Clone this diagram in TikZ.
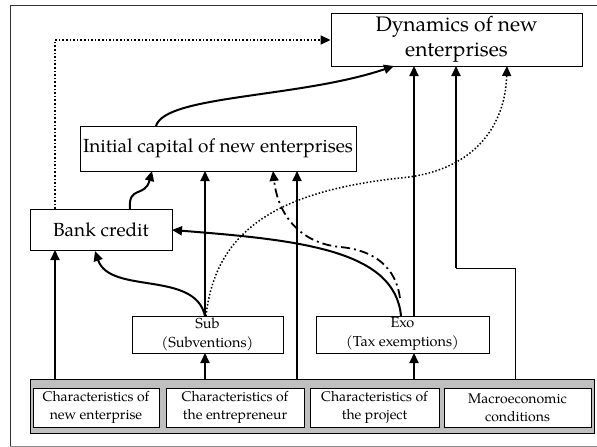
\documentclass[tikz,border=0pt]{standalone}
\usepackage{fontspec}
\setmainfont{TeX Gyre Pagella}
\usetikzlibrary{arrows.meta}
\tikzset{
  box/.style={draw, line width=0.9pt, inner sep=0pt, align=center},
  inbox/.style={draw, line width=1pt, fill=white, inner sep=0pt, align=center, minimum height=39pt, font=\fontsize{14}{18}\selectfont},
  arr/.style={line width=2pt, -{Triangle[length=10pt,width=9pt]}},
  dotarr/.style={line width=1.6pt, dotted, -{Triangle[length=10pt,width=9pt]}},
}
\begin{document}
\begin{tikzpicture}[x=1pt,y=-1pt]
\useasboundingbox (0,0) rectangle (597,447);
% outer frame
\draw[line width=1pt, black!80] (597,5) -- (10,5) -- (10,446);
\draw[line width=1pt, black!45] (10,446) -- (597,446);
% boxes
\node[box, minimum width=251pt, minimum height=53pt, font=\fontsize{21}{25}\selectfont] (dyn) at (456.5,39.5) {Dynamics of new\\enterprises};
\node[box, minimum width=276pt, minimum height=45pt, font=\fontsize{19}{22}\selectfont] (ini) at (218,148.5) {Initial capital of new enterprises};
\node[box, minimum width=142pt, minimum height=41pt, font=\fontsize{19}{22}\selectfont] (bank) at (101,229.5) {Bank credit};
\node[box, minimum width=151pt, minimum height=37pt, font=\fontsize{14.5}{19}\selectfont] (sub) at (207.5,334.5) {Sub\\(Subventions)};
\node[box, minimum width=173pt, minimum height=37pt, font=\fontsize{14.5}{19}\selectfont] (exo) at (402.5,334.5) {Exo\\(Tax exemptions)};
% band
\node[draw, line width=1pt, fill=black!25, minimum width=564pt, minimum height=54pt, inner sep=0pt] (band) at (312,406) {};
\node[inbox, minimum width=126pt] (c1) at (96,407.5) {Characteristics of\\new enterprise};
\node[inbox, minimum width=138pt] (c2) at (235,407.5) {Characteristics of\\the entrepreneur};
\node[inbox, minimum width=129pt] (c3) at (374.5,407.5) {Characteristics of\\the project};
\node[inbox, minimum width=147pt] (c4) at (517.5,407.5) {Macroeconomic\\conditions};
% coordinates
\coordinate (bk1) at (55,209);
\coordinate (dynL) at (55,40);
\coordinate (bandA) at (55,379);
\coordinate (bandB) at (205,379);
\coordinate (bandC) at (297,379);
\coordinate (bandD) at (414,379);
\coordinate (bandE) at (515,379);
\coordinate (macroA) at (515,268);
\coordinate (macroB) at (456,268);
% connectors
\draw[dotarr] (bk1) -- (dynL) -- (dyn.west |- dynL);
\draw[arr] (156,126) .. controls (165,95) and (300,98) .. (394,66);
\draw[arr] (130,209) .. controls (128,185) and (145,198) .. (152,171);
\draw[arr] (205,316) -- (205,171);
\draw[arr] (205,316) .. controls (195,270) and (110,295) .. (95,251);
\draw[line width=1.5pt, dotted, -{Triangle[length=10pt,width=9pt]}] (206,316) .. controls (215,235) and (270,192) .. (400,178) .. controls (470,172) and (505,130) .. (507,66);
\draw[arr] (bandC) -- (297,171);
\draw[arr] (401,316) .. controls (395,250) and (300,240) .. (172,230);
\draw[line width=1.8pt, dash pattern=on 9pt off 4pt on 2pt off 4pt, -{Triangle[length=10pt,width=9pt]}] (400,298) .. controls (396,268) and (375,250) .. (340,247) .. controls (300,243) and (278,215) .. (273,171);
\draw[arr] (414,316) -- (414,66);
\draw[arr] (bandD) -- (414,353);
\draw[arr] (bandB) -- (205,353);
\draw[arr] (bandA) -- (55,250);
\draw[line width=0.9pt] (bandE) -- (macroA) -- (macroB);
\draw[arr] (macroB) -- (456,66);
\end{tikzpicture}
\end{document}
